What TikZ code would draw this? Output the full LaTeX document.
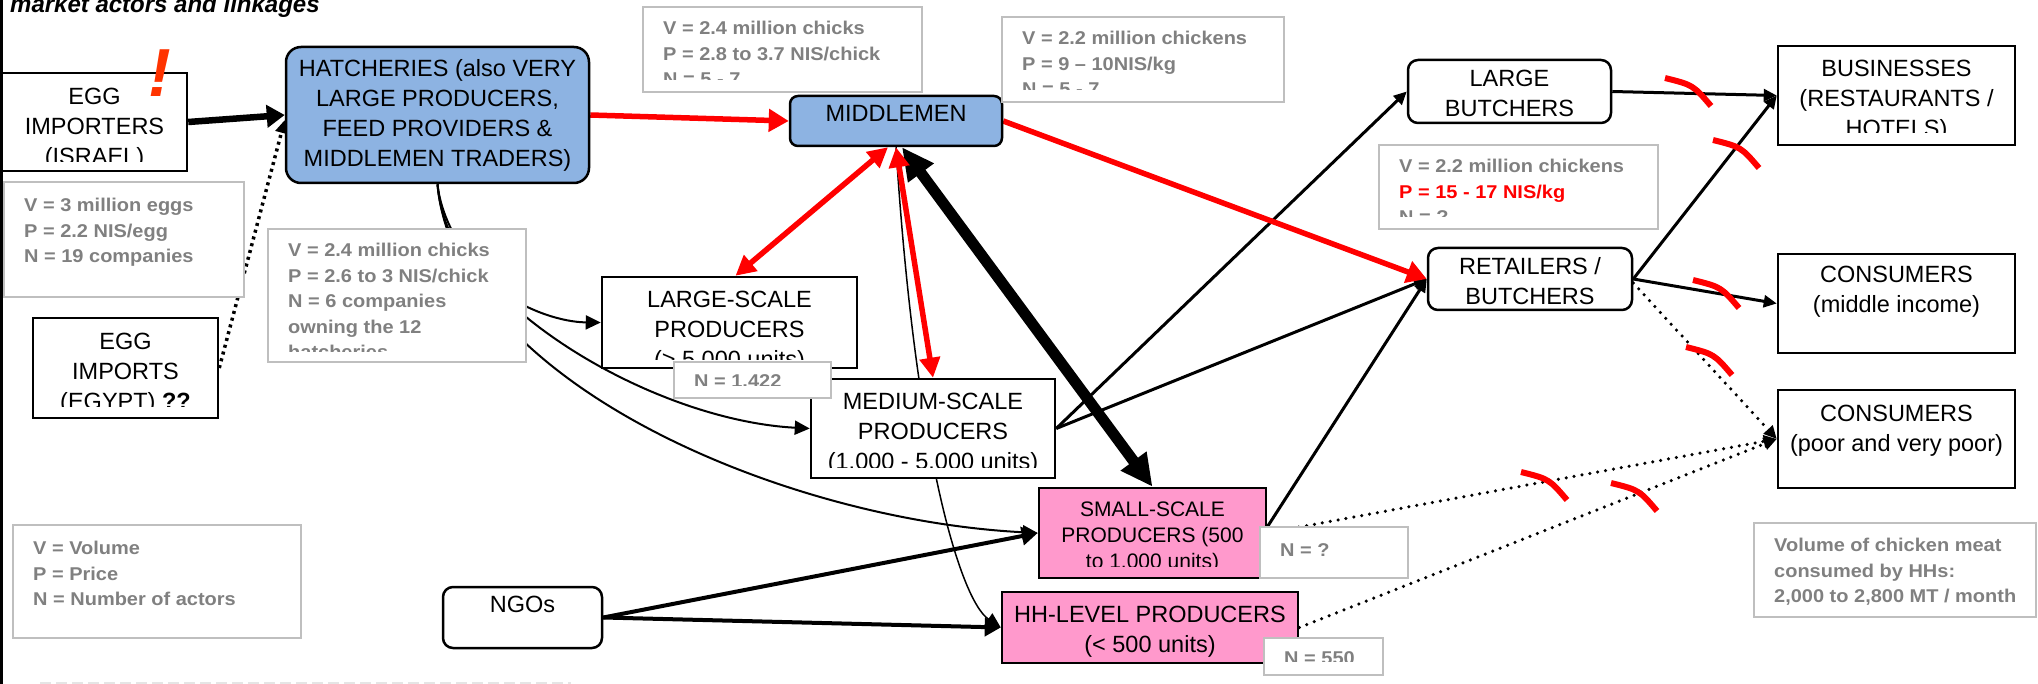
\documentclass[tikz,border=0pt]{standalone}
\usepackage{fontspec}
\setmainfont{Liberation Sans}
\newfontfamily\grayfont[FakeStretch=1.08,Ligatures=TeX]{Liberation Sans}
\usetikzlibrary{arrows.meta}
\pgfdeclarelayer{bg}
\pgfsetlayers{bg,main}
\definecolor{hatchblue}{RGB}{141,179,226}
\definecolor{prodpink}{RGB}{255,153,204}
\definecolor{infoline}{RGB}{191,191,191}
\definecolor{infogray}{RGB}{128,128,128}
\definecolor{bangred}{RGB}{255,51,0}
\newcommand{\boxtext}[6][lbl]{\begin{scope}\clip ([yshift=#5]#2.south west) rectangle (#2.north east);
  \node[#1,anchor=north] (#3) at ([yshift=-#4]#2.north) {#6};\end{scope}}
\newcommand{\infotext}[5]{\begin{scope}\clip ([yshift=#4]#1.south west) rectangle (#1.north east);
  \node[gtxt,anchor=north west] (#2) at ([xshift=21pt,yshift=-#3]#1.north west) {#5};\end{scope}}
\begin{document}
\begin{tikzpicture}[x=1pt,y=-1pt,
  actor/.style={draw, line width=2.5pt, fill=white},
  info/.style={draw=infoline, line width=2pt, fill=white},
  lbl/.style={inner sep=0pt, align=center, font=\fontsize{23.5}{30}\selectfont},
  slbl/.style={lbl, font=\fontsize{21}{26}\selectfont},
  gtxt/.style={inner sep=0pt, align=left, text=infogray, font=\grayfont\fontsize{18.5}{25.5}\selectfont\bfseries},
  link/.style={line width=3pt, -{Triangle[length=13pt,width=12pt]}},
  feed/.style={line width=2pt, -{Triangle[length=15pt,width=14pt]}},
  dots/.style={line width=3.5pt, line cap=round, dash pattern=on 0pt off 8pt, -{Triangle[length=13pt,width=12pt]}},
  redlink/.style={red, line width=5.5pt, -{Triangle[length=20pt,width=22pt]}},
  redboth/.style={red, line width=5.5pt, {Triangle[length=20pt,width=20pt]}-{Triangle[length=20pt,width=20pt]}},
  cutmark/.style={red, line width=6pt}]
\useasboundingbox (0,0) rectangle (2038,684);
\draw[line width=3pt] (1.5,0) -- (1.5,684);
\draw[gray!20, line width=3pt, dash pattern=on 11pt off 5pt] (40,683) -- (571,683);
\node[font=\fontsize{24}{28}\selectfont\bfseries\itshape, anchor=base west, inner sep=0pt] (title) at (10,13) {market actors and linkages};

\node[actor, minimum width=185pt, minimum height=98pt] (eggisr) at (94.5,122) {};
\boxtext{eggisr}{eggisr-t}{16pt}{11pt}{EGG\\IMPORTERS\\(ISRAEL)}
\node[actor, minimum width=185pt, minimum height=100pt] (eggegy) at (125.5,368) {};
\boxtext{eggegy}{eggegy-t}{16pt}{13pt}{EGG\\IMPORTS\\(EGYPT) \textbf{??}}
\node[actor, fill=hatchblue, rounded corners=15pt, minimum width=303pt, minimum height=136pt] (hatch) at (437.5,115) {};
\boxtext{hatch}{hatch-t}{14pt}{0pt}{HATCHERIES (also VERY\\LARGE PRODUCERS,\\FEED PROVIDERS \&\\MIDDLEMEN TRADERS)}
\node[actor, fill=hatchblue, rounded corners=8pt, minimum width=212pt, minimum height=50pt] (mid) at (896,121) {};
\boxtext{mid}{mid-t}{10pt}{0pt}{MIDDLEMEN}
\node[actor, minimum width=255pt, minimum height=91pt] (large) at (729.5,322.5) {};
\boxtext{large}{large-t}{15pt}{10pt}{LARGE-SCALE\\PRODUCERS\\(> 5.000 units)}
\node[actor, minimum width=244pt, minimum height=99pt] (med) at (933,428.5) {};
\boxtext{med}{med-t}{15pt}{12pt}{MEDIUM-SCALE\\PRODUCERS\\(1.000 - 5.000 units)}
\node[actor, fill=prodpink, minimum width=227pt, minimum height=90pt] (small) at (1152.5,533) {};
\boxtext[slbl]{small}{small-t}{15pt}{13pt}{SMALL-SCALE\\PRODUCERS (500\\to 1.000 units)}
\node[actor, fill=prodpink, minimum width=296pt, minimum height=71pt] (hh) at (1150,627.5) {};
\boxtext{hh}{hh-t}{15pt}{0pt}{HH-LEVEL PRODUCERS\\(< 500 units)}
\node[actor, rounded corners=10pt, minimum width=159pt, minimum height=61pt] (ngo) at (522.5,617.5) {};
\boxtext{ngo}{ngo-t}{10pt}{0pt}{NGOs}
\node[actor, rounded corners=10pt, minimum width=203pt, minimum height=63pt] (lbutch) at (1509.5,91.5) {};
\boxtext{lbutch}{lbutch-t}{11pt}{0pt}{LARGE\\BUTCHERS}
\node[actor, rounded corners=10pt, minimum width=204pt, minimum height=62pt] (retail) at (1530,279) {};
\boxtext{retail}{retail-t}{11pt}{0pt}{RETAILERS /\\BUTCHERS}
\node[actor, minimum width=237pt, minimum height=99pt] (bus) at (1896.5,95.5) {};
\boxtext{bus}{bus-t}{15pt}{14pt}{BUSINESSES\\(RESTAURANTS /\\HOTELS)}
\node[actor, minimum width=237pt, minimum height=99pt] (consmid) at (1896.5,303.5) {};
\boxtext{consmid}{consmid-t}{13pt}{0pt}{CONSUMERS\\(middle income)}
\node[actor, minimum width=237pt, minimum height=98pt] (conspoor) at (1896.5,439) {};
\boxtext{conspoor}{conspoor-t}{16pt}{0pt}{CONSUMERS\\(poor and very poor)}

\node[info, minimum width=240pt, minimum height=115pt] (infoegg) at (124,239.5) {};
\infotext{infoegg}{infoegg-t}{17pt}{0pt}{V = 3 million eggs\\P = 2.2 NIS/egg\\N = 19 companies}
\node[info, minimum width=258pt, minimum height=133pt] (infochick) at (397,295.5) {};
\infotext{infochick}{infochick-t}{15pt}{11pt}{V = 2.4 million chicks\\P = 2.6 to 3 NIS/chick\\N = 6 companies\\owning the 12\\hatcheries}
\node[info, minimum width=279pt, minimum height=85pt] (infohatch) at (782.5,49.5) {};
\infotext{infohatch}{infohatch-t}{15pt}{13pt}{V = 2.4 million chicks\\P = 2.8 to 3.7 NIS/chick\\N = 5 - 7}
\node[info, minimum width=282pt, minimum height=85pt] (infomid) at (1143,59.5) {};
\infotext{infomid}{infomid-t}{15pt}{13pt}{V = 2.2 million chickens\\P = 9 \textendash{} 10NIS/kg\\N = 5 - 7}
\node[info, minimum width=279pt, minimum height=84pt] (inforet) at (1518.5,187) {};
\infotext{inforet}{inforet-t}{15pt}{13pt}{V = 2.2 million chickens\\\textcolor{red}{P = 15 - 17 NIS/kg}\\N = ?}
\node[info, minimum width=157pt, minimum height=36pt] (nlarge) at (752.5,380) {};
\infotext{nlarge}{nlarge-t}{13pt}{13pt}{N = 1.422}
\node[info, minimum width=148pt, minimum height=51pt] (nsmall) at (1334,552.5) {};
\infotext{nsmall}{nsmall-t}{17pt}{0pt}{N = ?}
\node[info, minimum width=119pt, minimum height=37pt] (nhh) at (1323.5,656.5) {};
\infotext{nhh}{nhh-t}{14pt}{15pt}{N = 550}
\node[info, minimum width=288pt, minimum height=113pt] (legend) at (157,581.5) {};
\infotext{legend}{legend-t}{17pt}{0pt}{V = Volume\\P = Price\\N = Number of actors}
\node[info, minimum width=282pt, minimum height=94pt] (infovol) at (1895,570) {};
\infotext{infovol}{infovol-t}{16pt}{0pt}{Volume of chicken meat\\consumed by HHs:\\2,000 to 2,800 MT / month}

\node[font=\fontsize{68}{70}\selectfont\bfseries\itshape, text=bangred, anchor=base, inner sep=0pt] (bang) at (160,97) {!};

\begin{pgfonlayer}{bg}
\draw[line width=6.5pt, -{Triangle[length=18pt,width=22pt]}] (eggisr.east) -- (hatch.west);
\draw[dots, dash pattern=on 3pt off 4pt, line cap=butt] (eggegy.east) -- ([yshift=-5pt]hatch.west);
\draw[feed] (hatch.south) .. controls (445,280) and (540,322) .. (large.west);
\draw[feed] (hatch.south) .. controls (450,300) and (650,420) .. (med.west);
\draw[feed] (hatch.south) .. controls (455,380) and (780,520) .. (small.west);
\draw[line width=1.5pt, -{Triangle[length=15pt,width=14pt]}] (mid.south) .. controls (915,450) and (960,600) .. (hh.west);
\draw[line width=4pt, -{Triangle[length=16pt,width=18pt]}] (ngo.east) -- (small.west);
\draw[line width=4pt, -{Triangle[length=16pt,width=18pt]}] (ngo.east) -- (hh.west);
\draw[link] (med.east) -- (lbutch.west);
\draw[link] (med.east) -- (retail.west);
\draw[link] ([yshift=6pt]small.east) -- (retail.west);
\draw[link] (lbutch.east) -- (bus.west);
\draw[link] (retail.east) -- (bus.west);
\draw[link] (retail.east) -- (consmid.west);
\draw[dots] ([yshift=-4pt]retail.east) -- (conspoor.west);
\draw[dots] (small.east) -- (conspoor.west);
\draw[dots] (hh.east) -- (conspoor.west);
\draw[line width=11pt, {Triangle[length=32pt,width=30pt]}-{Triangle[length=32pt,width=30pt]}] ([xshift=6pt]mid.south) -- (small.north);
\draw[redboth] ([xshift=-8pt]mid.south) -- ([xshift=6pt]large.north);
\draw[redboth] (mid.south) -- (med.north);
\draw[redlink] (hatch.east) -- (mid.west);
\draw[redlink] (mid.east) -- (retail.west);
\end{pgfonlayer}

\foreach \x/\y in {1665/78,1713/140,1693/280,1686/347,1521/472,1611/483}
  \draw[cutmark] (\x,\y) .. controls ({\x+28},{\y+7}) .. ({\x+46},{\y+28});
\end{tikzpicture}
\end{document}
